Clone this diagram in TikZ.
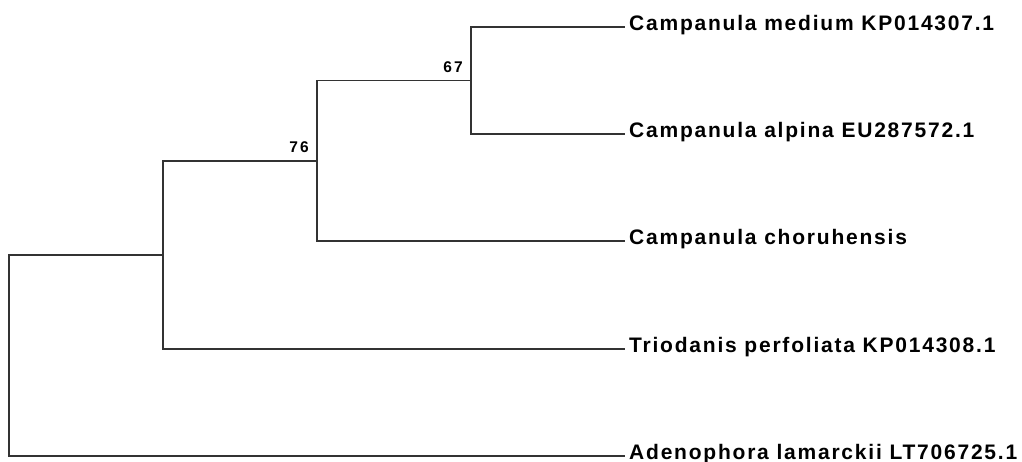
\documentclass[tikz,border=0pt]{standalone}
\usepackage{fontspec}
\newfontfamily\leaffont[LetterSpace=8.5]{Liberation Sans}
\newfontfamily\suppfont[LetterSpace=14]{Liberation Sans}
\tikzset{
  branch/.style={line width=1.3pt, draw=black!80},
  taxon/.style={anchor=base west, inner sep=0pt, font=\leaffont\bfseries\fontsize{21}{24}\selectfont},
  support/.style={anchor=east, inner sep=0pt, font=\suppfont\bfseries\fontsize{15.5}{18}\selectfont}
}
\begin{document}
\begin{tikzpicture}[x=1pt,y=-1pt]
  \useasboundingbox (0,0) rectangle (1022,461);
  % internal nodes (position of each vertical bar)
  \coordinate (root) at (9,355.5);
  \coordinate (n2) at (163,255);
  \coordinate (n3) at (317,161);
  \coordinate (n4) at (471,80.5);
  % tips
  \coordinate (t1) at (625,27);
  \coordinate (t2) at (625,134);
  \coordinate (t3) at (625,241);
  \coordinate (t4) at (625,349);
  \coordinate (t5) at (625,456);
  % branches
  \draw[branch] (root) |- (n2);
  \draw[branch] (root) |- (t5);
  \draw[branch] (n2) |- (n3);
  \draw[branch] (n2) |- (t4);
  \draw[branch] (n3) |- (n4);
  \draw[branch] (n3) |- (t3);
  \draw[branch] (n4) |- (t1);
  \draw[branch] (n4) |- (t2);
  % taxon labels
  \node[taxon] (l1) at (629,30) {Campanula medium KP014307.1};
  \node[taxon] (l2) at (629,137) {Campanula alpina EU287572.1};
  \node[taxon] (l3) at (629,244) {Campanula choruhensis};
  \node[taxon] (l4) at (629,352) {Triodanis perfoliata KP014308.1};
  \node[taxon] (l5) at (629,459) {Adenophora lamarckii LT706725.1};
  % bootstrap support values
  \node[support] (b4) at (463,67) {67};
  \node[support] (b3) at (309,147) {76};
\end{tikzpicture}
\end{document}
